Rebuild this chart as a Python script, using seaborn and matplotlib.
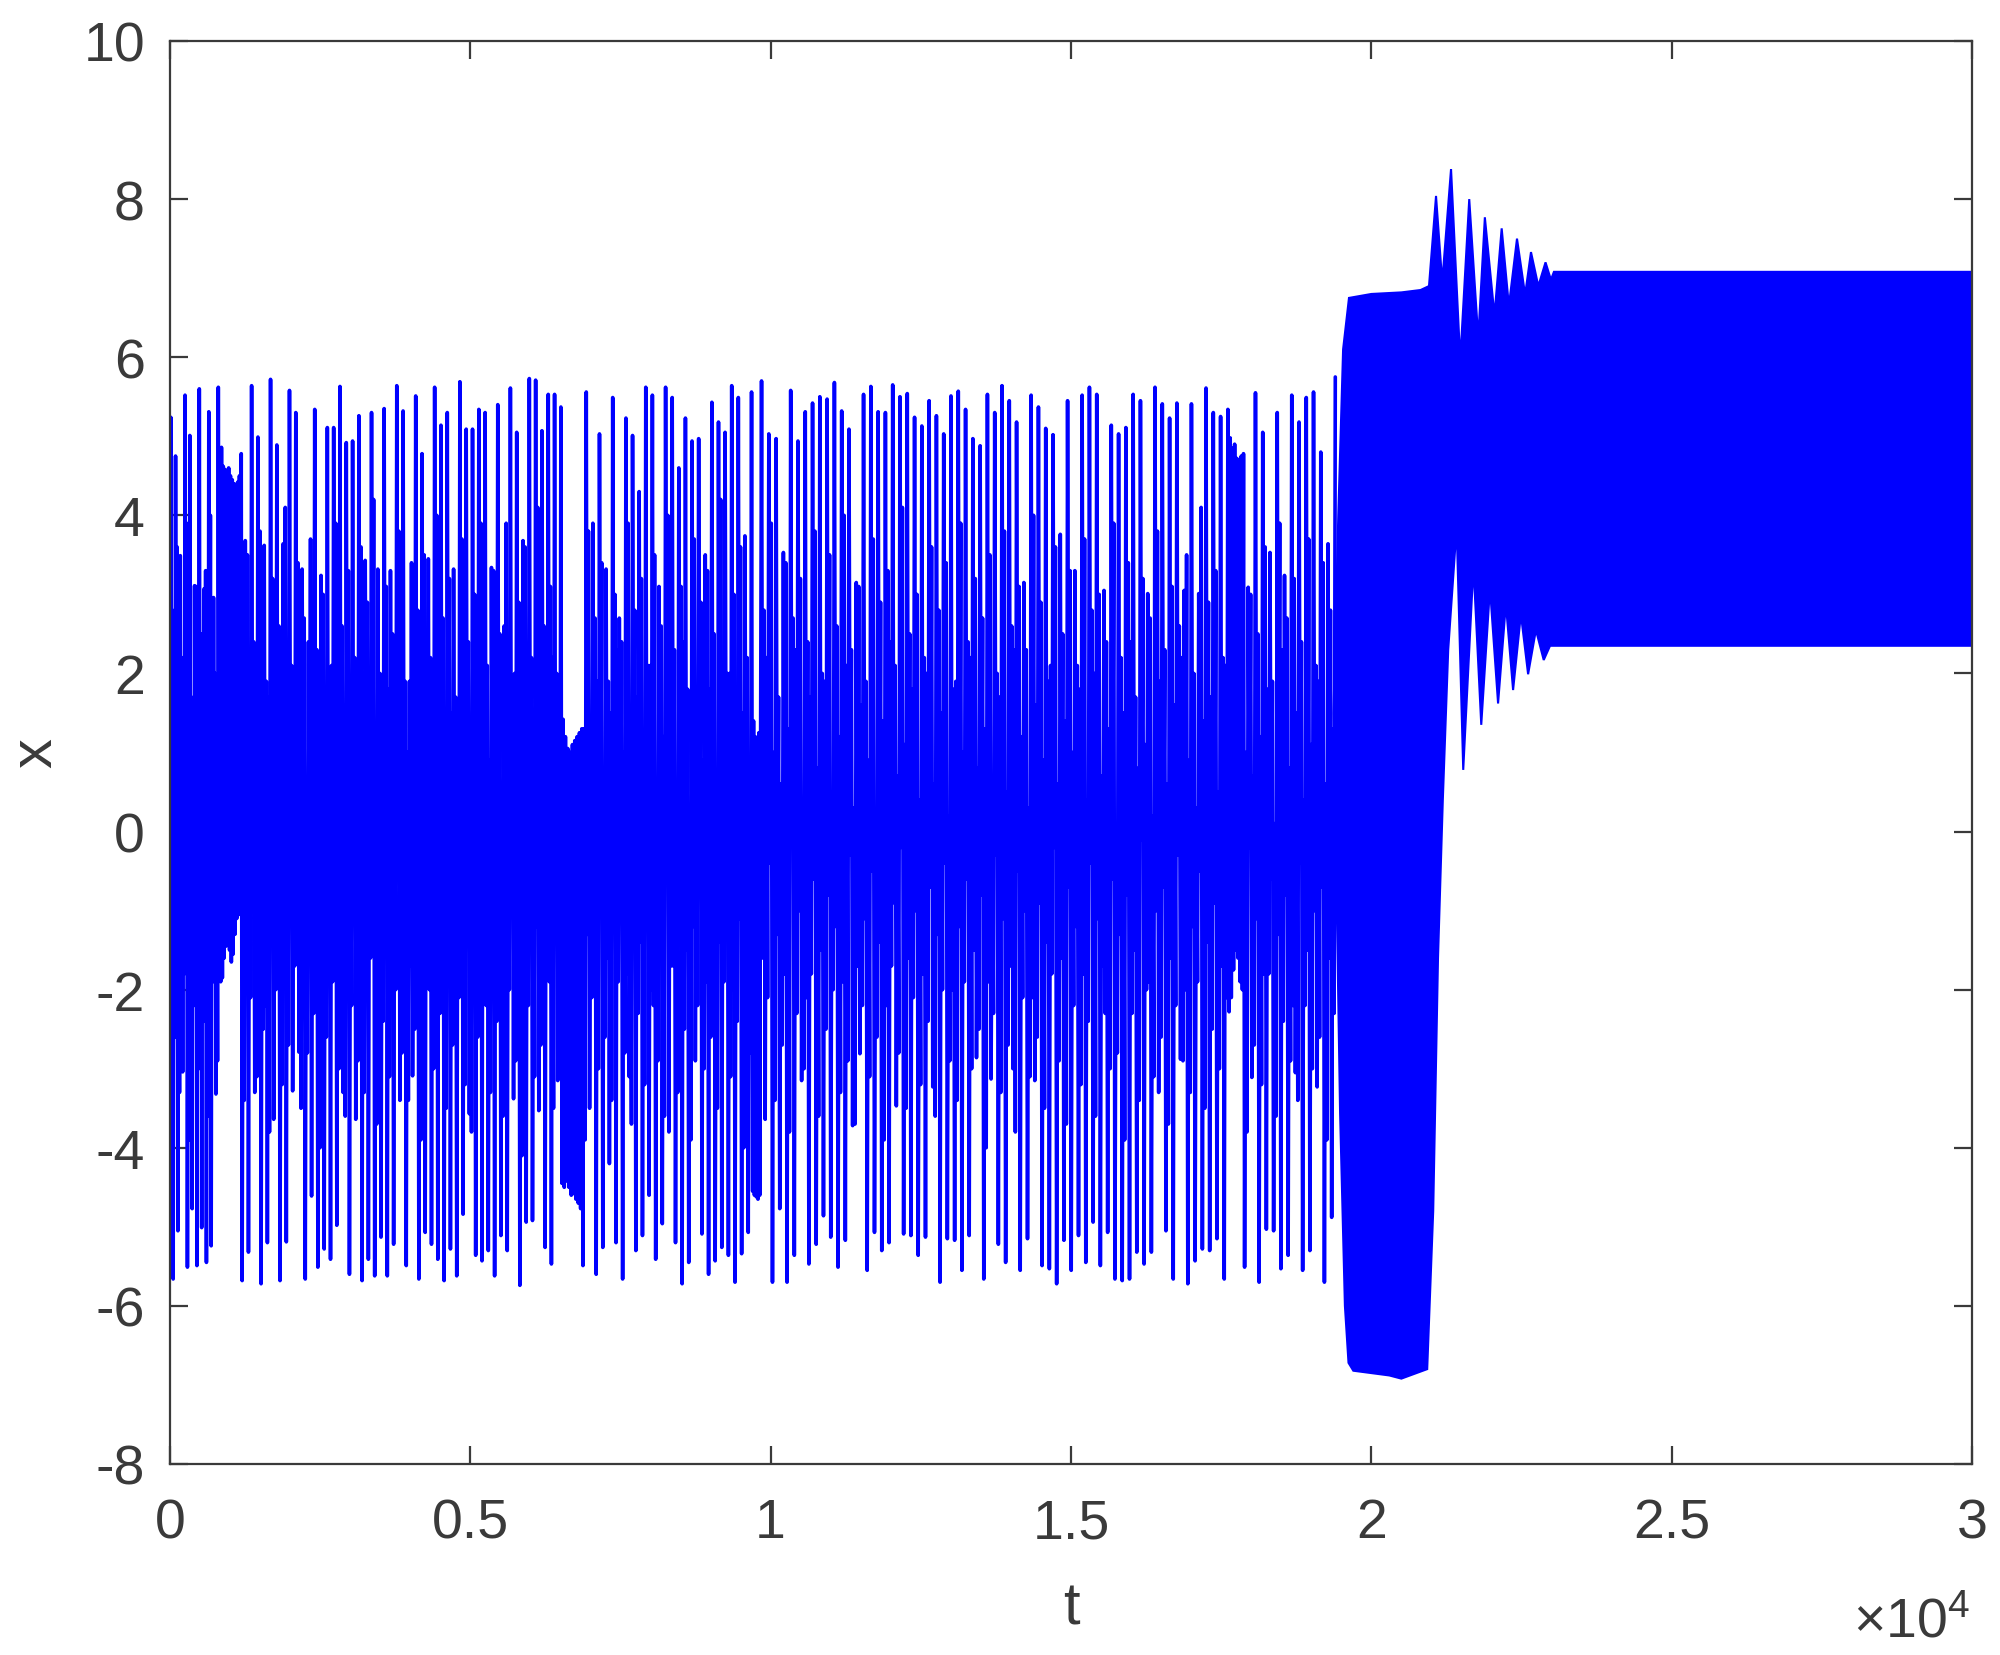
import numpy as np
import pandas as pd
import matplotlib
matplotlib.use("Agg")
import matplotlib.pyplot as plt
import seaborn as sns

# ---------------- data ----------------
# time bounds (t) of the successive regimes before the dense band
seg_bounds = [0, 857, 1201, 6525, 6875, 9700, 9848, 17632, 17890, 19400]

x_start = [0.0]
# segment 0 (chaotic), t 0 - 857 : large excursions
peaks_0 = [5.24, 4.75, 3.49, 5.52, 5.01, 3.11, 5.60, 3.07, 5.31, 2.96, 5.62]
troughs_0 = [-5.66, -5.05, -3.04, -5.51, -4.77, -5.49, -5.01, -5.45, -5.24, -3.32, -1.90]
# segment 1 (laminar around the positive focus), t 857 - 1201
lam1_upper = [4.86, 4.62, 4.58, 4.52, 4.60, 4.50, 4.45, 4.40, 4.38, 4.42, 4.50, 4.78]
lam1_lower = [-1.85, -1.60, -1.45, -1.40, -1.50, -1.65, -1.55, -1.30, -1.10, -1.00, -1.05]
# segment 2 (chaotic), t 1201 - 6525
troughs_2 = [-5.68, -5.32, -3.30, -5.72, -5.20, -3.64, -5.68, -5.19, -3.28, -2.79,
             -5.66, -4.61, -5.51, -5.28, -5.41, -4.98, -3.30, -5.60, -3.64, -5.68,
             -5.41, -5.62, -5.13, -5.62, -5.22, -3.40, -5.49, -3.09, -5.66, -5.07,
             -5.22, -5.41, -5.68, -5.28, -5.62, -4.84, -3.57, -5.36, -5.43, -5.30,
             -5.62, -5.11, -5.30, -3.38, -5.74, -4.94, -4.92, -3.53, -5.26, -5.47, -3.15]
peaks_2 = [3.68, 5.64, 4.99, 3.62, 5.72, 4.89, 3.64, 5.58, 5.30, 3.32,
           2.40, 5.34, 3.24, 5.11, 5.11, 5.63, 4.92, 4.94, 5.26, 3.43,
           5.30, 3.32, 5.35, 3.30, 5.64, 5.32, 1.90, 5.51, 4.78, 3.45,
           5.62, 5.14, 5.30, 3.32, 5.69, 5.09, 5.09, 5.34, 5.30, 3.34,
           5.40, 2.60, 5.61, 5.05, 3.68, 5.73, 5.71, 5.07, 5.53, 5.53, 5.37]
# segment 3 (laminar around the negative focus), t 6525 - 6875
lam3_lower = [-4.45, -4.50, -4.42, -4.50, -4.60, -4.58, -4.65, -4.70, -4.77]
lam3_upper = [1.42, 1.20, 1.05, 1.00, 1.10, 1.15, 1.20, 1.25, 1.30]
# segment 4 (chaotic), t 6875 - 9700
troughs_4 = [-5.49, -3.50, -5.60, -5.26, -4.20, -5.20, -5.66, -3.10, -5.30, -5.11,
             -4.60, -5.41, -4.96, -3.80, -5.20, -5.72, -5.45, -2.90, -5.09, -5.60,
             -5.43, -5.26, -5.36, -5.70, -5.34, -5.07]
peaks_4 = [5.56, 3.90, 5.03, 3.32, 5.49, 2.70, 5.23, 5.01, 4.30, 5.62,
           5.52, 3.10, 5.62, 5.49, 4.60, 5.23, 4.94, 4.97, 3.50, 5.43,
           5.18, 5.05, 5.64, 5.49, 3.74, 5.56]
# segment 5 (short negative laminar), t 9700 - 9848
lam5_lower = [-4.55, -4.60, -4.62, -4.65, -4.60]
lam5_upper = [1.40, 1.20, 1.10, 1.25, 1.35]
# segment 6 (chaotic), t 9848 - 17632
peaks_6 = [5.70, 5.03, 4.97, 3.53, 5.58, 4.94, 5.31, 5.42, 5.50, 5.47,
           5.68, 5.32, 5.09, 3.15, 5.53, 5.63, 5.31, 5.30, 5.65, 5.50,
           5.54, 5.24, 5.13, 5.45, 5.26, 5.03, 5.51, 5.57, 5.34, 4.97,
           4.88, 5.53, 5.30, 5.64, 5.45, 5.18, 3.15, 5.52, 5.37, 5.10,
           5.02, 3.76, 5.45, 3.30, 5.52, 5.62, 5.53, 3.05, 5.14, 5.03,
           5.11, 5.53, 5.45, 3.01, 5.62, 5.41, 5.23, 5.42, 3.05, 5.41,
           3.01, 5.61, 5.30, 5.25, 5.34]
troughs_6 = [-3.64, -5.70, -4.77, -5.70, -5.36, -3.15, -5.47, -5.22, -4.86, -5.13,
             -5.51, -5.17, -3.72, -2.81, -5.55, -5.07, -5.30, -5.20, -3.47, -5.09,
             -5.11, -5.36, -5.13, -3.23, -5.70, -5.15, -5.17, -5.55, -5.11, -2.86,
             -5.66, -3.13, -5.22, -5.45, -3.00, -5.55, -5.15, -3.15, -5.49, -5.53,
             -5.72, -5.17, -5.55, -5.11, -5.45, -4.94, -5.49, -5.07, -5.66, -5.68,
             -5.66, -5.32, -5.47, -5.32, -3.30, -5.05, -5.66, -2.88, -5.72, -5.43,
             -5.28, -5.30, -5.15, -5.66]
# segment 7 (laminar around the positive focus), t 17632 - 17890
lam7_lower = [-2.28, -2.10, -1.75, -1.50, -1.60, -1.90, -2.00]
lam7_upper = [4.98, 4.85, 4.90, 4.72, 4.69, 4.75, 4.78]
# segment 8 (chaotic), t 17890 - 19400
troughs_8 = [-5.51, -3.11, -5.70, -5.03, -5.05, -5.53, -5.36, -3.05, -5.55, -5.30, -3.23, -5.70, -4.88]
peaks_8 = [3.09, 5.55, 5.05, 3.53, 5.30, 3.24, 5.52, 5.18, 5.49, 5.56, 4.80, 3.64, 5.75]

# small oscillations inside the dense core, following each large peak: (low, high)
inner_after_peak = [
    (-1.2, 2.8), (-0.4, 3.6), (-1.8, 2.2), (-0.9, 3.9), (-1.5, 1.7), (-0.2, 3.1), (-1.1, 2.5), (-2.0, 3.3), (-0.6, 4.0), (-1.3, 2.0),
    (-0.8, 2.9), (-1.7, 3.5), (-0.3, 2.4), (-1.4, 3.8), (-2.2, 1.9), (-0.7, 3.2), (-1.0, 2.6), (-1.9, 4.1), (-0.5, 2.1), (-1.6, 3.4),
    (-0.1, 2.7), (-1.2, 3.7), (-2.1, 2.3), (-0.9, 3.0), (-1.4, 1.8), (-0.4, 3.9), (-1.8, 2.6), (-0.6, 3.3), (-1.1, 2.2), (-2.3, 3.6),
    (-0.2, 2.9), (-1.5, 4.2), (-0.8, 2.0), (-1.3, 3.1), (-1.9, 2.5), (-0.5, 3.8), (-1.0, 1.9), (-1.7, 3.4), (-0.3, 2.8), (-1.2, 3.5),
    (-2.0, 2.2), (-0.7, 4.0), (-1.6, 2.7), (-0.4, 3.2), (-1.1, 1.7), (-1.8, 3.7), (-0.6, 2.4), (-1.4, 3.0), (-0.9, 3.9), (-2.2, 2.1),
    (-1.0, 3.3), (-0.3, 2.5), (-1.7, 3.9), (-0.8, 1.8), (-1.5, 2.9), (-2.1, 3.6), (-0.5, 2.2), (-1.2, 4.1), (-0.1, 2.6), (-1.9, 3.1),
    (-0.7, 2.0), (-1.3, 3.8), (-2.0, 2.7), (-0.4, 3.4), (-1.6, 1.9), (-0.9, 3.0), (-1.1, 2.4), (-1.8, 3.9), (-0.2, 2.8), (-1.4, 3.2),
    (-0.6, 2.1), (-2.2, 3.5), (-1.0, 2.6), (-0.3, 4.0), (-1.7, 2.3), (-0.8, 3.1), (-1.5, 1.8), (-1.2, 3.7), (-0.5, 2.9), (-1.9, 3.3),
    (-0.9, 2.5), (-1.4, 4.2), (-0.2, 2.0), (-2.0, 3.0), (-1.1, 3.6), (-0.7, 2.2), (-1.6, 2.8), (-0.4, 3.9), (-1.3, 1.7), (-1.8, 3.4),
    (-0.1, 2.7), (-1.0, 3.2), (-2.1, 2.4), (-0.6, 3.8), (-1.5, 2.0), (-0.8, 3.5), (-1.2, 2.6), (-1.9, 4.0), (-0.3, 2.3), (-1.7, 3.1),
    (-1.1, 1.9), (-0.5, 3.7), (-1.4, 2.9), (-2.2, 3.3), (-0.9, 2.1), (-0.2, 4.1), (-1.6, 2.5), (-1.0, 3.0), (-1.8, 2.2), (-0.7, 3.6),
    (-1.3, 2.8), (-0.4, 3.4), (-2.0, 1.8), (-1.2, 3.9), (-0.6, 2.4), (-1.5, 3.2), (-0.8, 2.7), (-1.9, 3.5), (-0.3, 2.0), (-1.1, 3.8),
    (-1.7, 2.6), (-0.5, 3.1), (-1.0, 2.3), (-2.1, 4.0), (-0.9, 2.9), (-1.4, 1.9), (-0.2, 3.6), (-1.6, 2.5), (-0.7, 3.3), (-1.2, 2.1),
    (-1.8, 3.7), (-0.4, 2.8), (-1.1, 3.0), (-2.3, 2.4), (-0.6, 3.9), (-1.3, 2.2), (-0.8, 3.4), (-1.5, 1.7), (-0.1, 3.2), (-1.9, 2.7),
    (-1.0, 3.8), (-0.7, 2.3), (-1.6, 3.1), (-0.3, 2.6), (-2.0, 3.5), (-1.2, 2.0), (-0.5, 4.1), (-1.4, 2.9), (-0.9, 3.3), (-1.7, 2.2),
    (-0.2, 3.0), (-1.1, 2.5), (-1.8, 3.6), (-0.6, 1.9), (-1.3, 3.9), (-0.8, 2.7), (-2.2, 3.2), (-0.4, 2.4), (-1.5, 3.7), (-1.0, 2.1),
    (-0.7, 3.4), (-1.6, 2.8),
]
# small oscillations inside the dense core, following each large trough: (high, low)
inner_after_trough = [
    (1.4, -2.6), (0.7, -3.3), (2.0, -1.8), (0.2, -3.9), (1.6, -2.2), (0.9, -3.0), (2.3, -2.4), (0.4, -3.6), (1.1, -1.9), (1.8, -2.9),
    (0.0, -3.4), (1.3, -2.1), (2.2, -3.1), (0.6, -2.5), (1.7, -3.8), (0.3, -2.0), (1.0, -3.2), (2.4, -2.7), (0.8, -1.7), (1.5, -3.5),
    (0.1, -2.8), (1.9, -2.3), (0.5, -4.0), (1.2, -2.6), (2.1, -1.9), (0.7, -3.0), (1.6, -3.6), (0.2, -2.2), (1.4, -2.9), (2.0, -3.3),
    (0.9, -1.6), (1.1, -3.7), (0.4, -2.4), (1.8, -3.1), (0.6, -2.0), (2.3, -2.8), (1.0, -3.4), (0.3, -2.5), (1.7, -3.9), (1.3, -1.8),
    (0.8, -3.0), (2.2, -2.3), (0.5, -3.5), (1.5, -2.7), (0.0, -2.1), (1.9, -3.2), (1.2, -3.8), (0.7, -2.6), (2.4, -1.9), (0.9, -3.3),
    (1.6, -2.4), (0.3, -3.6), (1.1, -2.0), (2.0, -2.9), (0.6, -4.1), (1.4, -2.2), (0.1, -3.1), (1.8, -2.7), (0.9, -1.8), (2.2, -3.5),
    (0.4, -2.5), (1.3, -3.9), (0.7, -2.1), (1.9, -3.0), (0.2, -2.6), (1.5, -3.4), (2.3, -1.9), (1.0, -2.8), (0.5, -3.7), (1.7, -2.3),
    (0.8, -3.2), (2.1, -2.0), (0.0, -2.9), (1.2, -3.6), (1.6, -1.7), (0.6, -3.3), (2.4, -2.5), (0.3, -3.9), (1.4, -2.2), (0.9, -3.0),
    (1.8, -2.6), (0.1, -3.5), (1.1, -1.9), (2.0, -3.1), (0.7, -2.4), (1.5, -4.0), (0.4, -2.8), (2.2, -2.1), (1.0, -3.4), (0.6, -2.7),
    (1.3, -3.8), (2.3, -2.3), (0.2, -3.0), (1.7, -1.8), (0.8, -3.6), (1.9, -2.5), (0.5, -2.0), (1.2, -3.3), (2.1, -2.9), (0.3, -3.7),
    (1.6, -2.2), (0.9, -3.1), (0.0, -2.6), (1.4, -3.9), (2.4, -1.7), (0.7, -2.8), (1.1, -3.5), (1.8, -2.1), (0.4, -3.2), (2.0, -2.4),
    (0.6, -3.6), (1.5, -2.0), (0.2, -2.9), (1.9, -3.4), (1.0, -1.9), (2.2, -3.0), (0.8, -2.5), (1.3, -4.0), (0.1, -2.3), (1.7, -3.3),
    (0.5, -2.7), (2.3, -3.8), (1.2, -2.1), (0.3, -3.1), (1.6, -2.6), (0.9, -3.5), (2.1, -1.8), (0.6, -2.9), (1.4, -3.7), (1.0, -2.2),
    (1.8, -3.2), (0.4, -2.4), (2.0, -3.6), (0.7, -1.7), (1.3, -3.0), (0.0, -2.8), (1.5, -3.9), (2.4, -2.3), (0.8, -3.4), (1.1, -2.0),
    (0.2, -3.1), (1.9, -2.6), (0.6, -3.7), (1.6, -2.2), (2.2, -2.9), (0.9, -3.3), (0.3, -1.9), (1.4, -3.5), (1.7, -2.5), (0.5, -3.0),
    (2.1, -2.1), (1.0, -3.8), (0.7, -2.7), (1.2, -3.2), (1.8, -1.8), (0.1, -3.6), (2.3, -2.4), (0.8, -2.9), (1.5, -3.4), (0.4, -2.2),
    (1.1, -3.0), (1.9, -2.6), (0.6, -3.9), (1.3, -2.3),
]

# dense oscillation band after t ~ 1.94e4 (upper and lower envelopes)
band_t_upper = [19370, 19450, 19530, 19628, 20000, 20500, 20820, 20960, 21077, 21180,
                21327, 21480, 21630, 21780, 21890, 22050, 22170, 22290, 22425, 22560,
                22658, 22780, 22900, 22990, 23040, 30000]
band_upper = [1.5, 4.0, 6.1, 6.75, 6.8, 6.82, 6.85, 6.9, 8.04, 6.95,
              8.38, 5.96, 8.0, 6.24, 7.77, 6.53, 7.63, 6.65, 7.5, 6.79,
              7.33, 6.9, 7.2, 6.98, 7.08, 7.08]
band_t_lower = [19370, 19395, 19480, 19560, 19620, 19700, 20300, 20500, 20930, 21030,
                21110, 21190, 21280, 21420, 21530, 21700, 21830, 21975, 22110, 22240,
                22360, 22490, 22610, 22740, 22870, 22975, 30000]
band_lower = [1.5, 0.46, -3.57, -6.0, -6.72, -6.82, -6.88, -6.92, -6.8, -4.8,
              -1.6, 0.4, 2.3, 3.85, 0.78, 3.36, 1.35, 3.08, 1.62, 2.88,
              1.79, 2.75, 1.99, 2.55, 2.17, 2.35, 2.35]

xticks = [0, 5000, 10000, 15000, 20000, 25000, 30000]
xtick_labels = ["0", "0.5", "1", "1.5", "2", "2.5", "3"]
yticks = [-8, -6, -4, -2, 0, 2, 4, 6, 8, 10]


def interleave(a, b):
    out = []
    for i in range(max(len(a), len(b))):
        if i < len(a):
            out.append(a[i])
        if i < len(b):
            out.append(b[i])
    return out


peak_pool = iter(inner_after_peak)
trough_pool = iter(inner_after_trough)


def with_inner(main):
    """Insert the small core oscillations after each large extremum."""
    out = []
    for j, v in enumerate(main):
        out.append(v)
        if j < len(main) - 1:
            out.extend(next(peak_pool) if v > 0 else next(trough_pool))
    return out


segments = [
    x_start + with_inner(interleave(peaks_0, troughs_0)),
    interleave(lam1_upper, lam1_lower),
    with_inner(interleave(troughs_2, peaks_2)),
    interleave(lam3_lower, lam3_upper),
    with_inner(interleave(troughs_4, peaks_4)),
    interleave(lam5_lower, lam5_upper),
    with_inner(interleave(peaks_6, troughs_6)),
    interleave(lam7_lower, lam7_upper),
    with_inner(interleave(troughs_8, peaks_8)),
]

ts, xs = [], []
for k, vals in enumerate(segments):
    last = k == len(segments) - 1
    tt = np.linspace(seg_bounds[k], seg_bounds[k + 1], len(vals), endpoint=last)
    ts.extend(tt)
    xs.extend(vals)
df = pd.DataFrame({"t": ts, "x": xs})

# ---------------- drawing ----------------
sns.set_style("ticks")
plt.rcParams["font.family"] = ["Liberation Sans", "DejaVu Sans"]
plt.rcParams["mathtext.fontset"] = "custom"
plt.rcParams["mathtext.rm"] = "Liberation Sans"
plt.rcParams["mathtext.it"] = "Liberation Sans"
plt.rcParams["axes.unicode_minus"] = False

axis_col = "#3a3a3a"
blue = "#0000ff"

fig = plt.figure(figsize=(20, 16.56), dpi=100)
ax = fig.add_axes([0.085, 0.11534, 0.901, 0.8593])

sns.lineplot(data=df, x="t", y="x", sort=False, estimator=None,
             color=blue, linewidth=2.6, ax=ax)
ax.fill(np.concatenate([band_t_upper, band_t_lower[::-1]]),
        np.concatenate([band_upper, band_lower[::-1]]),
        facecolor=blue, edgecolor=blue, linewidth=1.5)

ax.set_xlim(0, 30000)
ax.set_ylim(-8, 10)
ax.set_xticks(xticks)
ax.set_xticklabels(xtick_labels)
ax.set_yticks(yticks)

for sp in ax.spines.values():
    sp.set_visible(True)
    sp.set_color(axis_col)
    sp.set_linewidth(1.6)

ax.tick_params(axis="both", direction="in", top=True, right=True,
               length=13, width=1.6, color=axis_col, labelcolor=axis_col,
               labelsize=40)
ax.tick_params(axis="x", pad=24)
ax.tick_params(axis="y", pad=18)

ax.set_xlabel("t", fontsize=43, color=axis_col)
ax.set_ylabel("x", fontsize=43, color=axis_col)
ax.xaxis.label.set_verticalalignment("center")
ax.xaxis.set_label_coords(0.5, -0.101)
ax.yaxis.label.set_verticalalignment("center")
ax.yaxis.set_label_coords(-0.0744, 0.5)

fig.text(0.985, 1 - 1637 / 1656, r"$\times\mathregular{10^{4}}$",
         ha="right", va="baseline", fontsize=40, color=axis_col)

fig.savefig("out.png", dpi=100, facecolor="white")
